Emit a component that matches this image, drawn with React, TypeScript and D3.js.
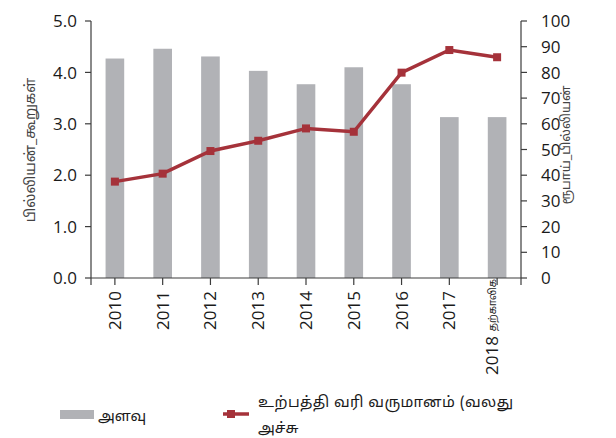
import React from "react";
import * as d3 from "d3";

const categories = ["2010", "2011", "2012", "2013", "2014", "2015", "2016", "2017", "2018"];
const volume = [4.27, 4.46, 4.31, 4.03, 3.77, 4.1, 3.77, 3.13, 3.13];
const revenue = [37.5, 40.6, 49.4, 53.4, 58.2, 56.9, 79.9, 88.7, 85.9];
const leftTicks = [0, 1, 2, 3, 4, 5];
const rightTicks = [0, 10, 20, 30, 40, 50, 60, 70, 80, 90, 100];
const leftTitle = "பில்லியன்_கூறுகள்";
const rightTitle = "ரூபாய்_பில்லியன்";
const provisional = "தற்காலிக";
const legendBar = "அளவு";
const legendLine1 = "உற்பத்தி வரி வருமானம் (வலது";
const legendLine2 = "அச்சு";

const W = 616;
const H = 438;
const left = 91;
const right = 521;
const top = 21;
const bottom = 278;

const BAR = "#b1b2b6";
const LINE = "#a5323a";
const AXIS = "#3c3c3c";
const TXT = "#1a1a1a";
const NUMF = "'Open Sans', 'Liberation Sans', sans-serif";
const TAMF = "'Noto Sans Tamil', 'Lohit Tamil', 'Noto Sans', sans-serif";

export default function App() {
  const x = d3.scaleBand<string>().domain(categories).range([left, right]).paddingInner(0.61).paddingOuter(0.305);
  const yL = d3.scaleLinear().domain([0, 5]).range([bottom, top]);
  const yR = d3.scaleLinear().domain([0, 100]).range([bottom, top]);
  const cx = (c: string) => (x(c) as number) + x.bandwidth() / 2;
  const line = d3
    .line<number>()
    .x((_, i) => cx(categories[i]))
    .y((d) => yR(d));

  return (
    <div style={{ position: "fixed", left: 0, top: 0 }}>
      <svg width={W} height={H} style={{ display: "block", background: "#fff" }}>
        {volume.map((v, i) => (
          <rect
            key={"b" + i}
            x={x(categories[i])}
            y={yL(v)}
            width={x.bandwidth()}
            height={yL(0) - yL(v)}
            fill={BAR}
          />
        ))}
        <line x1={left} x2={left} y1={top} y2={bottom + 7} stroke={AXIS} strokeWidth={1.2} />
        {leftTicks.map((t) => (
          <g key={"l" + t}>
            <line x1={left - 6} x2={left} y1={yL(t)} y2={yL(t)} stroke={AXIS} strokeWidth={1.2} />
            <text x={77} y={yL(t)} dy="0.36em" textAnchor="end" fontSize={17} fontFamily={NUMF} fill={TXT}>
              {d3.format(".1f")(t)}
            </text>
          </g>
        ))}
        <line x1={right} x2={right} y1={top} y2={bottom + 7} stroke={AXIS} strokeWidth={1.2} />
        {rightTicks.map((t) => (
          <g key={"r" + t}>
            <line x1={right} x2={right + 6} y1={yR(t)} y2={yR(t)} stroke={AXIS} strokeWidth={1.2} />
            <text x={541} y={yR(t)} dy="0.36em" textAnchor="start" fontSize={17} fontFamily={NUMF} fill={TXT}>
              {t}
            </text>
          </g>
        ))}
        <line x1={left} x2={right} y1={bottom} y2={bottom} stroke={AXIS} strokeWidth={1.2} />
        {categories.map((c, i) => (
          <g key={"x" + c}>
            <line x1={cx(c)} x2={cx(c)} y1={bottom} y2={bottom + 7} stroke={AXIS} strokeWidth={1.2} />
            {i < categories.length - 1 ? (
              <text
                transform={`translate(${cx(c) + 6},${291}) rotate(-90)`}
                textAnchor="end"
                fontSize={17}
                fontFamily={NUMF}
                fill={TXT}
              >
                {c}
              </text>
            ) : (
              <g>
                <text
                  transform={`translate(${cx(c) - 1},${279}) rotate(-90)`}
                  textAnchor="end"
                  fontSize={10}
                  fontFamily={TAMF}
                  fill={TXT}
                >
                  {provisional}
                </text>
                <text
                  transform={`translate(${cx(c) + 1},${336}) rotate(-90)`}
                  textAnchor="end"
                  fontSize={17}
                  fontFamily={NUMF}
                  fill={TXT}
                >
                  {c}
                </text>
              </g>
            )}
          </g>
        ))}
        <path d={line(revenue) || ""} fill="none" stroke={LINE} strokeWidth={3.5} />
        {revenue.map((v, i) => (
          <rect key={"m" + i} x={cx(categories[i]) - 4} y={yR(v) - 4} width={8} height={8} fill={LINE} />
        ))}
        <text
          transform={`translate(35,150) rotate(-90)`}
          textAnchor="middle"
          fontSize={14}
          fontFamily={TAMF}
          fill="#444"
        >
          {leftTitle}
        </text>
        <text
          transform={`translate(570,145) rotate(-90)`}
          textAnchor="middle"
          fontSize={12.5}
          fontFamily={TAMF}
          fill="#444"
        >
          {rightTitle}
        </text>
        <rect x={60} y={410} width={34} height={9} fill={BAR} />
        <text x={98} y={421} fontSize={15} fontFamily={TAMF} fill={TXT}>
          {legendBar}
        </text>
        <line x1={223} x2={249} y1={414} y2={414} stroke={LINE} strokeWidth={3.5} />
        <rect x={227} y={410} width={8} height={8} fill={LINE} />
        <text x={258} y={407} fontSize={15} fontFamily={TAMF} fill={TXT} textLength={255} lengthAdjust="spacing">
          {legendLine1}
        </text>
        <text x={258} y={433} fontSize={15} fontFamily={TAMF} fill={TXT}>
          {legendLine2}
        </text>
      </svg>
    </div>
  );
}
